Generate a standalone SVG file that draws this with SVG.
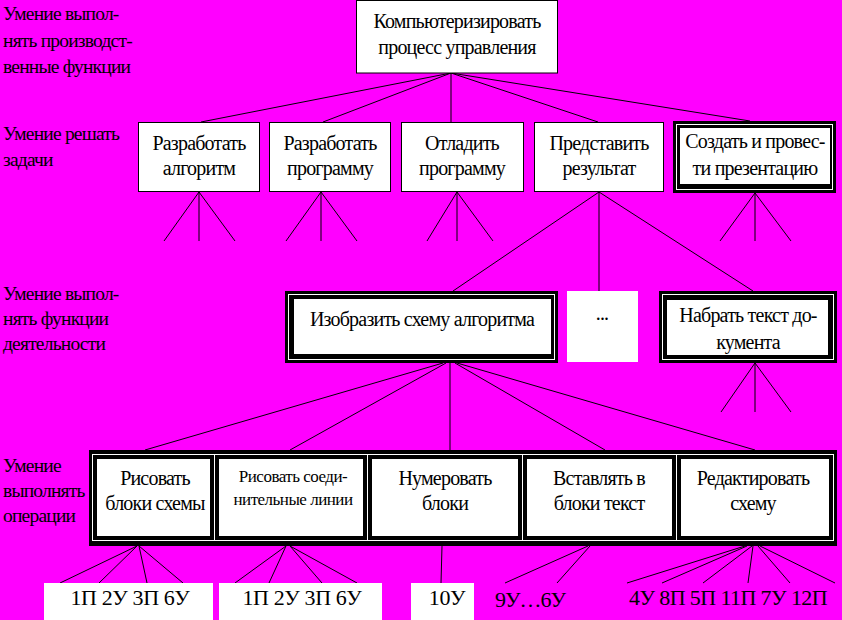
<svg xmlns="http://www.w3.org/2000/svg" width="842" height="620" viewBox="0 0 842 620">
<style>
.bg{fill:#FF00FF}
.box{fill:#FFFFFF;stroke:#000000;stroke-width:1}
.blk{fill:#000000}
.wl{fill:none;stroke:#FFFFFF;stroke-width:1}
.in{fill:#FFFFFF}
.wht{fill:#FFFFFF}
text{font-family:"Liberation Serif","DejaVu Serif","Times New Roman",serif;fill:#000000}
.t{font-size:20px;letter-spacing:-0.8px;text-anchor:middle}
.s{font-size:17px;letter-spacing:-0.5px;text-anchor:middle}
.lbl{font-size:19.5px;letter-spacing:-0.8px}
.code{font-size:22px;letter-spacing:-0.4px;text-anchor:middle}
.wire line{stroke:#000000;stroke-width:1}
</style>
<rect class="bg" x="0" y="0" width="842" height="620"/>

<g id="level-labels">
<text class="lbl" x="3" y="20">Умение выпол-</text>
<text class="lbl" x="3" y="47">нять производст-</text>
<text class="lbl" x="3" y="73">венные функции</text>
<text class="lbl" x="3" y="140">Умение решать</text>
<text class="lbl" x="3" y="166">задачи</text>
<text class="lbl" x="3" y="300">Умение выпол-</text>
<text class="lbl" x="3" y="325">нять функции</text>
<text class="lbl" x="3" y="350">деятельности</text>
<text class="lbl" x="3" y="472">Умение</text>
<text class="lbl" x="3" y="497">выполнять</text>
<text class="lbl" x="3" y="522">операции</text>
</g>

<g id="connectors" class="wire">
<line x1="451" y1="73" x2="201" y2="122"/>
<line x1="451" y1="73" x2="323" y2="122"/>
<line x1="451" y1="73" x2="451" y2="122"/>
<line x1="451" y1="73" x2="598" y2="122"/>
<line x1="451" y1="73" x2="750" y2="121"/>

<line x1="199" y1="192" x2="164" y2="241"/>
<line x1="199" y1="192" x2="199" y2="241"/>
<line x1="199" y1="192" x2="235" y2="241"/>
<line x1="321" y1="192" x2="286" y2="241"/>
<line x1="321" y1="192" x2="321" y2="241"/>
<line x1="321" y1="192" x2="357" y2="241"/>
<line x1="457" y1="192" x2="427" y2="241"/>
<line x1="457" y1="192" x2="457" y2="241"/>
<line x1="457" y1="192" x2="493" y2="241"/>
<line x1="599" y1="192" x2="453" y2="291"/>
<line x1="599" y1="192" x2="599" y2="291"/>
<line x1="599" y1="192" x2="753" y2="291"/>
<line x1="755" y1="193" x2="720" y2="241"/>
<line x1="755" y1="193" x2="755" y2="241"/>
<line x1="755" y1="193" x2="791" y2="241"/>

<line x1="755" y1="363" x2="721" y2="412"/>
<line x1="755" y1="363" x2="755" y2="412"/>
<line x1="755" y1="363" x2="791" y2="412"/>

<line x1="443" y1="363" x2="145" y2="450"/>
<line x1="446" y1="363" x2="290" y2="450"/>
<line x1="450" y1="363" x2="450" y2="450"/>
<line x1="455" y1="363" x2="605" y2="450"/>
<line x1="457" y1="363" x2="755" y2="450"/>

<line x1="137" y1="546" x2="60" y2="583"/>
<line x1="137" y1="546" x2="99" y2="583"/>
<line x1="139" y1="546" x2="147" y2="583"/>
<line x1="139" y1="546" x2="183" y2="583"/>
<line x1="286" y1="546" x2="235" y2="583"/>
<line x1="286" y1="546" x2="269" y2="583"/>
<line x1="290" y1="546" x2="322" y2="583"/>
<line x1="290" y1="546" x2="357" y2="583"/>
<line x1="442" y1="546" x2="441" y2="583"/>
<line x1="588" y1="546" x2="505" y2="583"/>
<line x1="590" y1="546" x2="557" y2="583"/>
<line x1="745" y1="546" x2="627" y2="583"/>
<line x1="747" y1="546" x2="662" y2="583"/>
<line x1="752" y1="546" x2="703" y2="583"/>
<line x1="753" y1="546" x2="748" y2="583"/>
<line x1="758" y1="546" x2="790" y2="583"/>
<line x1="760" y1="546" x2="835" y2="583"/>
</g>

<g id="n-root">
<rect class="box" x="356.5" y="0.5" width="201" height="72.5"/>
<text class="t" x="457" y="28">Компьютеризировать</text>
<text class="t" x="457" y="54">процесс управления</text>
</g>

<g id="n-algorithm">
<rect class="box" x="138.5" y="122.5" width="121" height="69"/>
<text class="t" x="199" y="150">Разработать</text>
<text class="t" x="199" y="175">алгоритм</text>
</g>
<g id="n-program">
<rect class="box" x="269.5" y="122.5" width="121" height="69"/>
<text class="t" x="330" y="150">Разработать</text>
<text class="t" x="330" y="175">программу</text>
</g>
<g id="n-debug">
<rect class="box" x="401.5" y="122.5" width="122" height="69"/>
<text class="t" x="462" y="150">Отладить</text>
<text class="t" x="462" y="175">программу</text>
</g>
<g id="n-result">
<rect class="box" x="534.5" y="122.5" width="129" height="69"/>
<text class="t" x="599" y="150">Представить</text>
<text class="t" x="599" y="175">результат</text>
</g>
<g id="n-presentation">
<rect class="blk" x="673" y="121" width="163" height="72"/>
<rect class="wl" x="676.5" y="124.5" width="156" height="65"/>
<rect class="in" x="680" y="128" width="150" height="56"/>
<text class="t" x="755" y="148">Создать и провес-</text>
<text class="t" x="755" y="175">ти презентацию</text>
</g>

<g id="n-scheme">
<rect class="blk" x="285" y="291" width="273" height="72"/>
<rect class="wl" x="288.5" y="294.5" width="266" height="65"/>
<rect class="in" x="294" y="299" width="257" height="55"/>
<text class="t" x="422" y="326">Изобразить схему алгоритма</text>
</g>
<g id="n-etc">
<rect class="wht" x="567" y="291" width="71" height="71"/>
<text class="t" x="602" y="320">...</text>
</g>
<g id="n-typing">
<rect class="blk" x="659" y="291" width="178" height="72"/>
<rect class="wl" x="662.5" y="294.5" width="171" height="65"/>
<rect class="in" x="667" y="300" width="161" height="55"/>
<text class="t" x="748" y="322">Набрать текст до-</text>
<text class="t" x="748" y="349">кумента</text>
</g>

<g id="n-draw-blocks">
<rect class="blk" x="89" y="450" width="126" height="96"/>
<rect class="wl" x="92.5" y="454.5" width="122" height="86"/>
<rect class="in" x="97" y="459" width="113" height="77"/>
<text class="t" x="155" y="485">Рисовать</text>
<text class="t" x="155" y="510">блоки схемы</text>
</g>
<g id="n-draw-lines">
<rect class="blk" x="214" y="450" width="154" height="96"/>
<rect class="wl" x="214.5" y="454.5" width="153" height="86"/>
<rect class="in" x="219" y="459" width="144" height="77"/>
<text class="s" x="293" y="482">Рисовать соеди-</text>
<text class="s" x="293" y="505">нительные линии</text>
</g>
<g id="n-number">
<rect class="blk" x="367" y="450" width="156" height="96"/>
<rect class="wl" x="367.5" y="454.5" width="155" height="86"/>
<rect class="in" x="372" y="459" width="146" height="77"/>
<text class="t" x="445" y="485">Нумеровать</text>
<text class="t" x="445" y="510">блоки</text>
</g>
<g id="n-insert-text">
<rect class="blk" x="522" y="450" width="155" height="96"/>
<rect class="wl" x="522.5" y="454.5" width="154" height="86"/>
<rect class="in" x="527" y="459" width="145" height="77"/>
<text class="t" x="599" y="485">Вставлять в</text>
<text class="t" x="599" y="510">блоки текст</text>
</g>
<g id="n-edit">
<rect class="blk" x="676" y="450" width="161" height="96"/>
<rect class="wl" x="676.5" y="454.5" width="157" height="86"/>
<rect class="in" x="681" y="459" width="148" height="77"/>
<text class="t" x="753" y="485">Редактировать</text>
<text class="t" x="753" y="510">схему</text>
</g>

<g id="codes-1">
<rect class="wht" x="44" y="583" width="169" height="37"/>
<text class="code" x="130" y="605">1П 2У 3П 6У</text>
</g>
<g id="codes-2">
<rect class="wht" x="219" y="583" width="163" height="37"/>
<text class="code" x="302" y="605">1П 2У 3П 6У</text>
</g>
<g id="codes-3">
<rect class="wht" x="411" y="583" width="63" height="37"/>
<text class="code" x="447" y="605">10У</text>
</g>
<g id="codes-4">
<text class="code" x="530" y="607" style="letter-spacing:-1px">9У…6У</text>
</g>
<g id="codes-5">
<text class="code" x="728" y="605" style="letter-spacing:-0.6px">4У 8П 5П 11П 7У 12П</text>
</g>
</svg>
